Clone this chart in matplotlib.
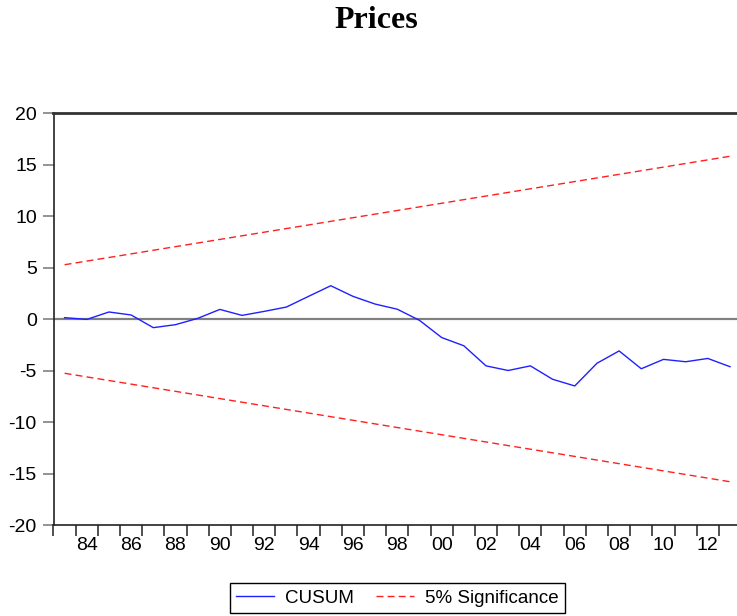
import matplotlib
matplotlib.use("Agg")
import matplotlib.pyplot as plt
from matplotlib.ticker import FixedLocator, FixedFormatter, NullFormatter

# Recursive residual CUSUM, one value per year
years = list(range(1983, 2014))
cusum = [0.13, -0.04, 0.68, 0.39, -0.84, -0.55, 0.06, 0.93, 0.35, 0.74,
         1.16, 2.20, 3.23, 2.20, 1.45, 0.95, -0.13, -1.80, -2.60, -4.55,
         -5.00, -4.55, -5.85, -6.50, -4.30, -3.10, -4.83, -3.92, -4.15, -3.83,
         -4.63]

# 5% significance bounds (straight lines between first and last year)
sig_years = [1983, 2013]
sig_upper = [5.27, 15.80]
sig_lower = [-5.27, -15.80]

y_ticks = [-20, -15, -10, -5, 0, 5, 10, 15, 20]
x_label_years = list(range(1984, 2013, 2))
x_labels = ["%02d" % (y % 100) for y in x_label_years]

W, H = 737, 616
fig = plt.figure(figsize=(W / 100, H / 100), dpi=100)
fig.patch.set_facecolor("white")

left, right, top, bottom = 53.5, 741.1, 113, 525
ax = fig.add_axes([left / W, 1 - bottom / H, (right - left) / W, (bottom - top) / H])

ax.axhline(0, color="#808080", linewidth=1.6, zorder=1)
ax.plot(years, cusum, color="#2020FF", linewidth=1.0, label="CUSUM", zorder=3)
ax.plot(sig_years, sig_upper, color="#FF2020", linewidth=1.0,
        linestyle=(0, (5, 3)), label="5% Significance", zorder=2)
ax.plot(sig_years, sig_lower, color="#FF2020", linewidth=1.0,
        linestyle=(0, (5, 3)), zorder=2)

ax.set_xlim(1982.5, 2013.5)
ax.set_ylim(-20, 20)

# year boundaries carry the tick marks, labels sit in the middle of each year
ax.xaxis.set_major_locator(FixedLocator([y - 0.5 for y in years] + [2013.5]))
ax.xaxis.set_major_formatter(NullFormatter())
ax.xaxis.set_minor_locator(FixedLocator(x_label_years))
ax.xaxis.set_minor_formatter(FixedFormatter(x_labels))
ax.tick_params(axis="x", which="major", direction="out", length=8, width=1.2, color="#333333")
ax.tick_params(axis="x", which="minor", length=0, pad=9, labelsize=14)

ax.set_yticks(y_ticks)
ax.set_yticklabels([str(v) for v in y_ticks])
ax.tick_params(axis="y", direction="out", length=8, width=1.2, color="#808080",
               pad=4, labelsize=14)

for name in ["left", "bottom"]:
    ax.spines[name].set_linewidth(1.2)
    ax.spines[name].set_color("#222222")
ax.spines["top"].set_linewidth(2.0)
ax.spines["top"].set_color("#333333")
ax.spines["right"].set_visible(False)

for lbl in ax.get_xticklabels(minor=True) + ax.get_yticklabels():
    lbl.set_fontfamily("Liberation Sans")

fig.text(376.5 / W, 1 - 28 / H, "Prices", ha="center", va="baseline",
         fontsize=23, fontweight="bold", family="Liberation Serif")

leg = fig.legend(loc="center", bbox_to_anchor=(397.5 / W, 1 - 598 / H), ncol=2,
                 frameon=True, fancybox=False, edgecolor="black", framealpha=1,
                 prop={"family": "Liberation Sans", "size": 13.5},
                 handlelength=2.0, columnspacing=1.2, handletextpad=0.6,
                 borderpad=0.35, borderaxespad=0)
leg.get_frame().set_linewidth(1.0)

fig.savefig("out.png", dpi=100)
